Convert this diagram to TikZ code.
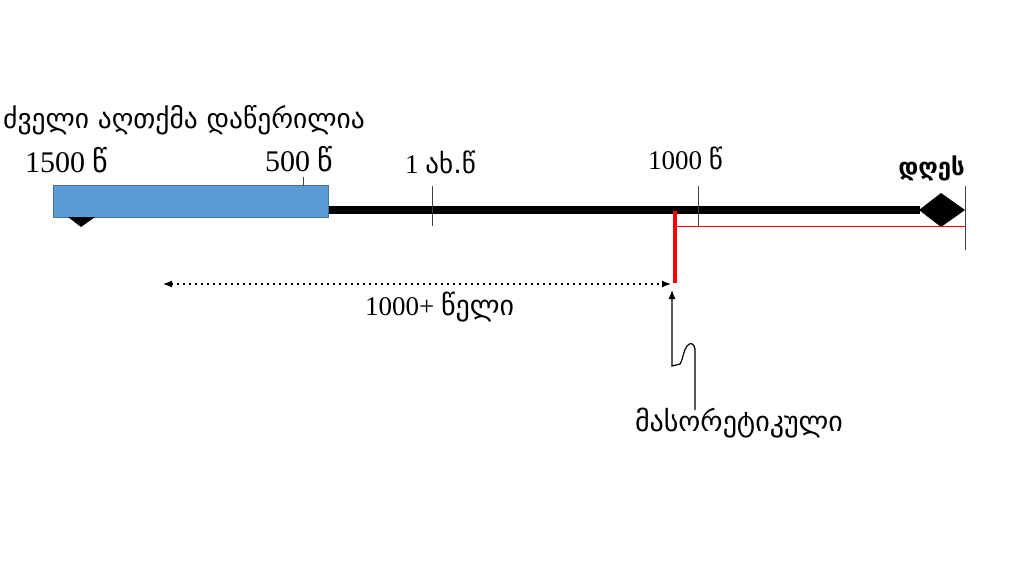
\documentclass[tikz,border=0pt]{standalone}
\usepackage{fontspec}
\usepackage{xcolor}
\usetikzlibrary{positioning,arrows.meta}
\setmainfont{Liberation Serif}
\newfontfamily\geo{DejaVu Sans}
\definecolor{boxblue}{HTML}{5B9BD5}
\definecolor{boxedge}{HTML}{41719C}
\definecolor{tickgray}{HTML}{404040}
\begin{document}
\begin{tikzpicture}[x=1pt,y=-1pt,>={Latex[length=9pt,width=7pt]},
    yr/.style={inner sep=0pt,anchor=base west,font=\fontsize{27}{30}\selectfont},
    geolbl/.style={inner sep=0pt,font=\geo\fontsize{28}{32}\selectfont},
    tick/.style={tickgray,line width=1pt}]
  \useasboundingbox (0,0) rectangle (1024,576);

  % Old Testament block and the time line
  \node (ot) [draw=boxedge, fill=boxblue, line width=1pt, inner sep=0pt,
    minimum width=275pt, minimum height=32pt, anchor=north west] at (53,185) {};
  \coordinate (lineend) at (920,210);
  \coordinate (now) at (965,210);
  \draw[line width=8pt] (ot.east |- lineend) -- (lineend);
  \fill (68,217) -- (95,217) -- (81,227) -- cycle;
  \fill (919,210) -- (941,193) -- (now) -- (941,227) -- cycle;

  % Ticks
  \draw[tick] (303,177) -- (303,186);
  \draw[tick] (432,186) -- (432,226);
  \draw[tick] (698,186) -- (698,226);
  \draw[tick] (965,186) -- (965,250);

  % Masoretic text
  \coordinate (mas) at (675,211);
  \coordinate (masend) at (675,283);
  \draw[red, line width=3.5pt] (mas) -- (masend);
  \draw[red, line width=1pt] (675,226) -- (965,226);

  % Labels
  \node (title) [geolbl, font=\geo\fontsize{27.5}{32}\selectfont, anchor=base west] at (3,128) {ძველი აღთქმა დაწერილია};
  \node (y1500) [yr, font=\fontsize{30}{34}\selectfont] at (25,172) {1500 {\geo წ}};
  \node (y500) [yr, font=\fontsize{30}{34}\selectfont] at (265,171) {500 {\geo წ}};
  \node (y1) [yr] at (405,173) {1 {\geo ახ.წ}};
  \node (y1000) [yr] at (648,169) {1000 {\geo წ}};
  \node (today) [geolbl, font=\geo\bfseries\fontsize{24}{28}\selectfont, anchor=base east] at (965,175) {დღეს};
  \node (span) [yr] at (365,315) {1000+ {\geo\fontsize{28}{32}\selectfont წელი}};
  \node (maso) [geolbl, anchor=base] at (739,431) {მასორეტიკული};

  % Arrows
  \coordinate (spanstart) at (163,284);
  \coordinate (spanend) at (671,284);
  \draw[<->, line width=1.2pt, dash pattern=on 1.5pt off 4.5pt] (spanstart) -- (spanend);
  \coordinate (mastop) at (695,410);
  \draw[->, line width=1.2pt] (mastop) -- (695,349)
    .. controls (694,343) and (690,342) .. (687,346)
    .. controls (683,351) and (683,360) .. (680,364) -- (672,366) -- (672,290);
\end{tikzpicture}
\end{document}
